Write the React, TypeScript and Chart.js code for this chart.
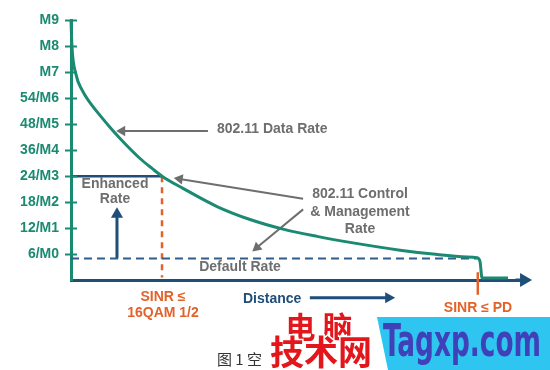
import React, { useEffect, useRef } from 'react';
import { Chart, registerables } from 'chart.js';

Chart.register(...registerables);

// Y-axis tick labels (index = value)
const yTickLabels = ['', '6/M0', '12/M1', '18/M2', '24/M3', '36/M4', '48/M5', '54/M6', 'M7', 'M8', 'M9'];

// 802.11 data rate curve (distance 0..100, rate level 0..10)
const rateX = [0, 0.22, 1.11, 2.45, 3.79, 6.46, 9.35, 12.47, 15.37, 18.04, 20.27, 24.94, 32.52, 39.87, 47.22, 54.79, 62.14, 73.27, 80.62, 88.2, 90.42, 91.09, 91.54, 97.33];
const rateY = [10, 8.98, 7.92, 7.32, 6.94, 6.34, 5.75, 5.17, 4.68, 4.3, 4.0, 3.53, 2.83, 2.33, 1.96, 1.68, 1.45, 1.15, 1.0, 0.89, 0.86, 0.72, 0.08, 0.08];

const defaultRate = 0.83;
const defaultRateEndX = 90.4;
const enhancedRate = 4;
const sinrX = 20.27;
const pdX = 90.6;
const distanceArrow = { from: 53.2, to: 72.2, y: -0.68 };

const TEAL = '#1b8a72';
const NAVY = '#1f4e79';
const DASHNAVY = '#2f5d8c';
const ORANGE = '#e2622a';
const GRAY = '#6e6e6e';

const FONT = "'Liberation Sans', Arial, sans-serif";

function arrowDs(pts: { x: number; y: number }[], color: string, width: number, rot: number, r: number) {
  return {
    type: 'line' as const,
    data: pts,
    borderColor: color,
    backgroundColor: color,
    borderWidth: width,
    pointRadius: [0, r],
    pointStyle: 'triangle',
    pointRotation: rot,
    pointBorderWidth: 0,
    clip: false as any,
    tension: 0,
  };
}

const textPlugin = {
  id: 'texts',
  afterDatasetsDraw(chart: any) {
    const ctx = chart.ctx as CanvasRenderingContext2D;
    const x = chart.scales.x;
    const y = chart.scales.y;
    const left = chart.chartArea.left;
    ctx.save();
    ctx.strokeStyle = TEAL;
    ctx.lineWidth = 2;
    for (let v = 1; v <= 10; v++) {
      const py = Math.round(y.getPixelForValue(v)) + 0.5;
      ctx.beginPath();
      ctx.moveTo(left - 6, py);
      ctx.lineTo(left + 6, py);
      ctx.stroke();
    }
    // Distance arrow (below the plot area)
    const x1 = x.getPixelForValue(distanceArrow.from);
    const x2 = x.getPixelForValue(distanceArrow.to);
    const py = y.getPixelForValue(distanceArrow.y);
    ctx.strokeStyle = NAVY;
    ctx.fillStyle = NAVY;
    ctx.lineWidth = 3;
    ctx.beginPath();
    ctx.moveTo(x1, py);
    ctx.lineTo(x2 - 8, py);
    ctx.stroke();
    ctx.beginPath();
    ctx.moveTo(x2, py);
    ctx.lineTo(x2 - 10, py - 5.5);
    ctx.lineTo(x2 - 10, py + 5.5);
    ctx.closePath();
    ctx.fill();
    ctx.restore();
  },
  afterDraw(chart: any) {
    const ctx = chart.ctx as CanvasRenderingContext2D;
    ctx.save();
    ctx.textBaseline = 'middle';
    const t = (s: string, x: number, yy: number, color: string, align: CanvasTextAlign = 'center', size = 14) => {
      ctx.font = `bold ${size}px ${FONT}`;
      ctx.fillStyle = color;
      ctx.textAlign = align;
      ctx.fillText(s, x, yy);
    };
    t('802.11 Data Rate', 217, 129, GRAY, 'left');
    t('802.11 Control', 360, 194, GRAY);
    t('& Management', 360, 212, GRAY);
    t('Rate', 360, 229, GRAY);
    t('Enhanced', 115, 184, GRAY);
    t('Rate', 115, 199, GRAY);
    t('Default Rate', 240, 267, GRAY);
    t('SINR ≤', 163, 297, ORANGE);
    t('16QAM 1/2', 163, 313, ORANGE);
    t('SINR ≤ PD', 478, 308, ORANGE);
    t('Distance', 243, 299, NAVY, 'left');

    // caption
    ctx.font = `15px 'Noto Sans CJK SC', sans-serif`;
    ctx.fillStyle = '#333';
    ctx.textAlign = 'left';
    ctx.fillText('图 1 空', 217, 359);

    // watermark box
    ctx.fillStyle = '#2ec6f0';
    ctx.beginPath();
    ctx.moveTo(377, 317);
    ctx.lineTo(550, 317);
    ctx.lineTo(550, 370);
    ctx.lineTo(388, 370);
    ctx.closePath();
    ctx.fill();
    ctx.font = `bold 44px 'DejaVu Sans Condensed', ${FONT}`;
    ctx.fillStyle = '#4040b8';
    ctx.textAlign = 'left';
    ctx.textBaseline = 'alphabetic';
    ctx.fillText('Tagxp.com', 383, 356, 158);

    ctx.font = `bold 30px 'Noto Sans CJK SC', sans-serif`;
    ctx.lineWidth = 3;
    ctx.strokeStyle = '#ffffff';
    ctx.fillStyle = '#e3161b';
    ctx.textAlign = 'center';
    ctx.textBaseline = 'middle';
    ctx.strokeText('电 脑', 319, 327);
    ctx.fillText('电 脑', 319, 327);
    ctx.font = `bold 34px 'Noto Sans CJK SC', sans-serif`;
    ctx.strokeText('技术网', 321, 352, 110);
    ctx.fillText('技术网', 321, 352, 110);
    ctx.restore();
  },
};

export default function App() {
  const ref = useRef<HTMLCanvasElement>(null);
  useEffect(() => {
    if (!ref.current) return;
    const rate = rateX.map((x, i) => ({ x, y: rateY[i] }));
    const chart = new Chart(ref.current, {
      type: 'line',
      data: {
        datasets: [
          {
            data: rate,
            borderColor: TEAL,
            borderWidth: 3,
            pointRadius: 0,
            cubicInterpolationMode: 'monotone',
            clip: false as any,
          },
          {
            data: [{ x: 0, y: defaultRate }, { x: defaultRateEndX, y: defaultRate }],
            borderColor: DASHNAVY,
            borderWidth: 2,
            borderDash: [8, 5],
            pointRadius: 0,
          },
          {
            data: [{ x: 0, y: enhancedRate }, { x: sinrX, y: enhancedRate }],
            borderColor: NAVY,
            borderWidth: 2.5,
            pointRadius: 0,
          },
          {
            data: [{ x: sinrX, y: enhancedRate }, { x: sinrX, y: 0.1 }],
            borderColor: ORANGE,
            borderWidth: 2.5,
            borderDash: [6, 5],
            pointRadius: 0,
          },
          {
            data: [{ x: pdX, y: 0.3 }, { x: pdX, y: -0.57 }],
            borderColor: ORANGE,
            borderWidth: 2.5,
            pointRadius: 0,
            clip: false as any,
          },
          arrowDs([{ x: 10.24, y: defaultRate }, { x: 10.24, y: 2.53 }], NAVY, 3, 0, 7),
          arrowDs([{ x: 30.5, y: 5.74 }, { x: 11.4, y: 5.74 }], GRAY, 2, -90, 6),
          arrowDs([{ x: 51.7, y: 3.13 }, { x: 24.2, y: 3.89 }], GRAY, 2, -81, 6),
          arrowDs([{ x: 51.7, y: 2.72 }, { x: 41.4, y: 1.25 }], GRAY, 2, -130, 6),
          arrowDs([{ x: 99, y: 0 }, { x: 100.9, y: 0 }], NAVY, 3, 90, 8),
        ] as any,
      },
      options: {
        animation: false,
        responsive: false,
        layout: { padding: { left: 0, top: 15, right: 30, bottom: 90 } },
        plugins: { legend: { display: false }, tooltip: { enabled: false } },
        scales: {
          x: {
            type: 'linear',
            min: 0,
            max: 100,
            afterFit: (s: any) => { s.height = 0; },
            ticks: { display: false },
            grid: { display: false, drawTicks: false },
            border: { display: true, color: NAVY, width: 3 },
          },
          y: {
            type: 'linear',
            min: 0,
            max: 10,
            afterFit: (s: any) => { s.width = 71; },
            ticks: {
              stepSize: 1,
              padding: 12,
              color: TEAL,
              font: { family: FONT, size: 14, weight: 'bold' },
              callback: (v: any) => yTickLabels[Number(v)] ?? '',
            },
            grid: { display: false, drawTicks: false },
            border: { display: true, color: TEAL, width: 3 },
          },
        },
      },
      plugins: [textPlugin],
    });
    return () => chart.destroy();
  }, []);
  return (
    <div style={{ position: 'fixed', left: 0, top: 0, width: 550, height: 370, background: '#fff' }}>
      <canvas ref={ref} width={550} height={370} />
    </div>
  );
}
